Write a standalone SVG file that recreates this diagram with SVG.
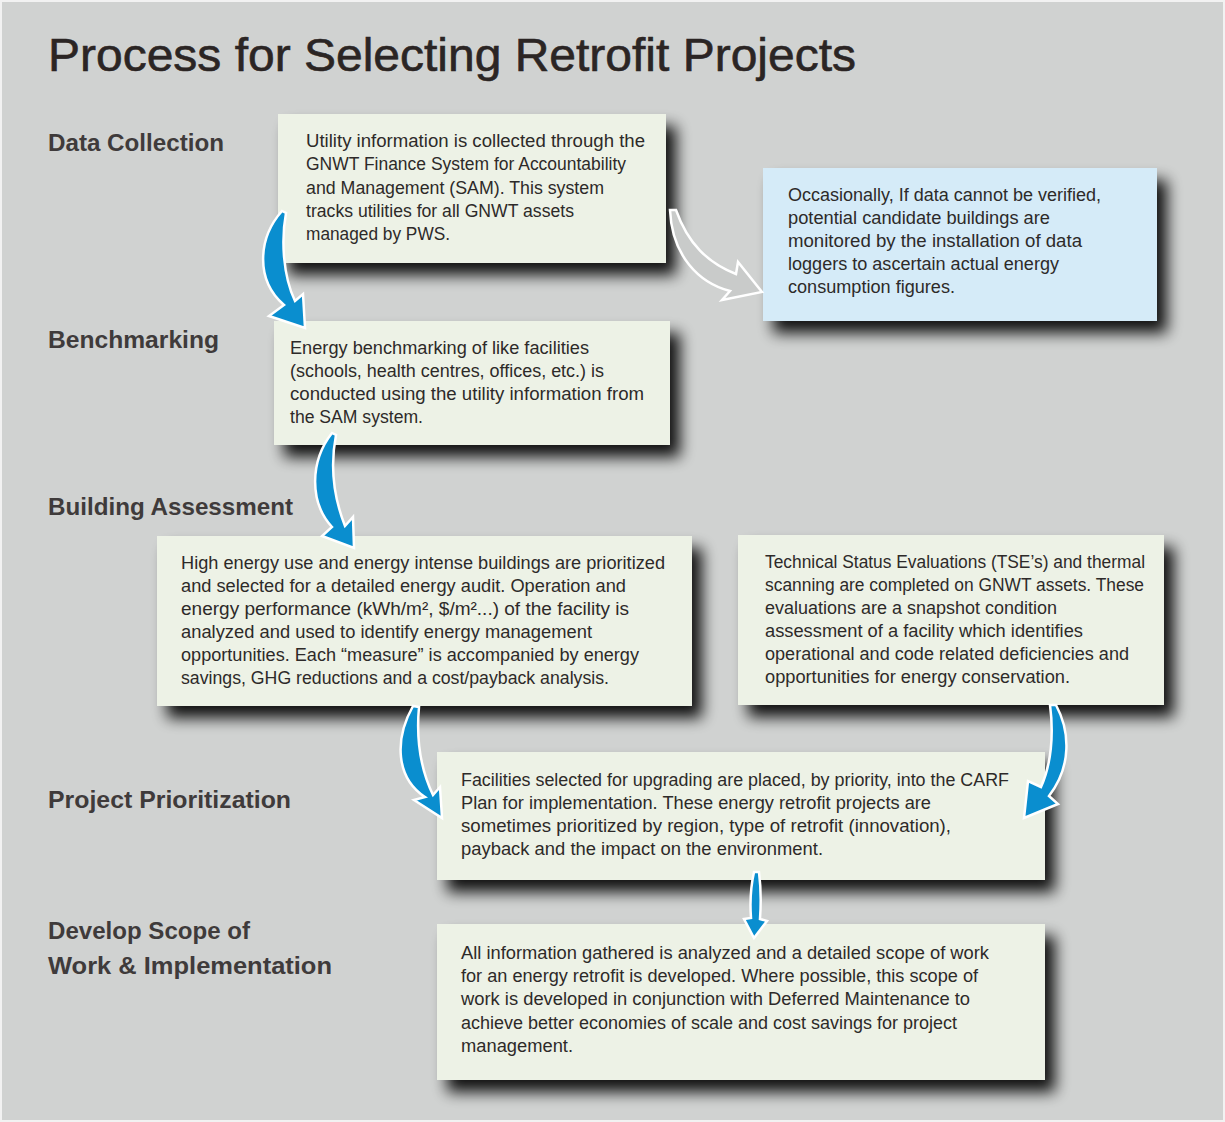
<svg xmlns="http://www.w3.org/2000/svg" width="1225" height="1122" viewBox="0 0 1225 1122">
  <defs>
    <filter id="dropShadow" x="-10%" y="-20%" width="130%" height="160%">
      <feGaussianBlur in="SourceAlpha" stdDeviation="7.5"/>
      <feOffset dx="10" dy="12" result="blur"/>
      <feComponentTransfer>
        <feFuncA type="linear" slope="0.92"/>
      </feComponentTransfer>
      <feMerge>
        <feMergeNode/>
        <feMergeNode in="SourceGraphic"/>
      </feMerge>
    </filter>
    <style>
      .title { font-family: "Liberation Sans", Arial, sans-serif; font-size: 46px; fill: #2b2524; stroke: #2b2524; stroke-width: 0.6; }
      .stage { font-family: "Liberation Sans", Arial, sans-serif; font-size: 24px; font-weight: bold; fill: #3f3b3b; }
      .body { font-family: "Liberation Sans", Arial, sans-serif; font-size: 17.5px; fill: #2d2a29; }
      .box { fill: #edf2e6; filter: url(#dropShadow); }
      .boxBlue { fill: #d5ebf8; filter: url(#dropShadow); }
      .flow { fill: #0a8ecf; stroke: #ffffff; stroke-width: 2.5; stroke-linejoin: miter; }
      .flowAlt { fill: #c9cbca; stroke: #ffffff; stroke-width: 2.5; stroke-linejoin: miter; }
    </style>
  </defs>

  <!-- page background -->
  <rect x="1" y="1" width="1223" height="1120" fill="#d0d2d1" stroke="#f2f2f2" stroke-width="2"/>

  <text class="title" x="48" y="71" textLength="808" lengthAdjust="spacingAndGlyphs">Process for Selecting Retrofit Projects</text>

  <!-- stage labels -->
  <g id="stage-labels">
    <text class="stage" x="48" y="151" textLength="176" lengthAdjust="spacingAndGlyphs">Data Collection</text>
    <text class="stage" x="48" y="348" textLength="171" lengthAdjust="spacingAndGlyphs">Benchmarking</text>
    <text class="stage" x="48" y="515" textLength="245" lengthAdjust="spacingAndGlyphs">Building Assessment</text>
    <text class="stage" x="48" y="808" textLength="243" lengthAdjust="spacingAndGlyphs">Project Prioritization</text>
    <text class="stage" x="48" y="939" textLength="202" lengthAdjust="spacingAndGlyphs">Develop Scope of</text>
    <text class="stage" x="48" y="974" textLength="284" lengthAdjust="spacingAndGlyphs">Work &amp; Implementation</text>
  </g>

  <!-- Data collection -->
  <g id="node-data-collection">
    <rect class="box" x="278" y="114" width="388" height="149"/>
    <text class="body" x="306" y="147" textLength="339" lengthAdjust="spacingAndGlyphs">Utility information is collected through the</text>
    <text class="body" x="306" y="170" textLength="320" lengthAdjust="spacingAndGlyphs">GNWT Finance System for Accountability</text>
    <text class="body" x="306" y="194" textLength="298" lengthAdjust="spacingAndGlyphs">and Management (SAM). This system</text>
    <text class="body" x="306" y="217" textLength="268" lengthAdjust="spacingAndGlyphs">tracks utilities for all GNWT assets</text>
    <text class="body" x="306" y="240" textLength="144" lengthAdjust="spacingAndGlyphs">managed by PWS.</text>
  </g>

  <!-- Data loggers -->
  <g id="node-data-loggers">
    <rect class="boxBlue" x="763" y="168" width="394" height="153"/>
    <text class="body" x="788" y="201" textLength="313" lengthAdjust="spacingAndGlyphs">Occasionally, If data cannot be verified,</text>
    <text class="body" x="788" y="224" textLength="262" lengthAdjust="spacingAndGlyphs">potential candidate buildings are</text>
    <text class="body" x="788" y="247" textLength="294" lengthAdjust="spacingAndGlyphs">monitored by the installation of data</text>
    <text class="body" x="788" y="270" textLength="271" lengthAdjust="spacingAndGlyphs">loggers to ascertain actual energy</text>
    <text class="body" x="788" y="293" textLength="167" lengthAdjust="spacingAndGlyphs">consumption figures.</text>
  </g>

  <!-- Benchmarking -->
  <g id="node-benchmarking">
    <rect class="box" x="274" y="321" width="396" height="124"/>
    <text class="body" x="290" y="354" textLength="299" lengthAdjust="spacingAndGlyphs">Energy benchmarking of like facilities</text>
    <text class="body" x="290" y="377" textLength="314" lengthAdjust="spacingAndGlyphs">(schools, health centres, offices, etc.) is</text>
    <text class="body" x="290" y="400" textLength="354" lengthAdjust="spacingAndGlyphs">conducted using the utility information from</text>
    <text class="body" x="290" y="423" textLength="133" lengthAdjust="spacingAndGlyphs">the SAM system.</text>
  </g>

  <!-- Building assessment -->
  <g id="node-building-assessment">
    <rect class="box" x="157" y="536" width="535" height="170"/>
    <text class="body" x="181" y="569" textLength="484" lengthAdjust="spacingAndGlyphs">High energy use and energy intense buildings are prioritized</text>
    <text class="body" x="181" y="592" textLength="445" lengthAdjust="spacingAndGlyphs">and selected for a detailed energy audit. Operation and</text>
    <text class="body" x="181" y="615" textLength="448" lengthAdjust="spacingAndGlyphs">energy performance (kWh/m², $/m²...) of the facility is</text>
    <text class="body" x="181" y="638" textLength="411" lengthAdjust="spacingAndGlyphs">analyzed and used to identify energy management</text>
    <text class="body" x="181" y="661" textLength="458" lengthAdjust="spacingAndGlyphs">opportunities. Each “measure” is accompanied by energy</text>
    <text class="body" x="181" y="684" textLength="428" lengthAdjust="spacingAndGlyphs">savings, GHG reductions and a cost/payback analysis.</text>
  </g>

  <!-- Technical status evaluations -->
  <g id="node-tse">
    <rect class="box" x="738" y="535" width="426" height="170"/>
    <text class="body" x="765" y="568" textLength="380" lengthAdjust="spacingAndGlyphs">Technical Status Evaluations (TSE’s) and thermal</text>
    <text class="body" x="765" y="591" textLength="379" lengthAdjust="spacingAndGlyphs">scanning are completed on GNWT assets. These</text>
    <text class="body" x="765" y="614" textLength="292" lengthAdjust="spacingAndGlyphs">evaluations are a snapshot condition</text>
    <text class="body" x="765" y="637" textLength="318" lengthAdjust="spacingAndGlyphs">assessment of a facility which identifies</text>
    <text class="body" x="765" y="660" textLength="364" lengthAdjust="spacingAndGlyphs">operational and code related deficiencies and</text>
    <text class="body" x="765" y="683" textLength="305" lengthAdjust="spacingAndGlyphs">opportunities for energy conservation.</text>
  </g>

  <!-- Project prioritization -->
  <g id="node-prioritization">
    <rect class="box" x="437" y="752" width="608" height="128"/>
    <text class="body" x="461" y="786" textLength="548" lengthAdjust="spacingAndGlyphs">Facilities selected for upgrading are placed, by priority, into the CARF</text>
    <text class="body" x="461" y="809" textLength="470" lengthAdjust="spacingAndGlyphs">Plan for implementation. These energy retrofit projects are</text>
    <text class="body" x="461" y="832" textLength="490" lengthAdjust="spacingAndGlyphs">sometimes prioritized by region, type of retrofit (innovation),</text>
    <text class="body" x="461" y="855" textLength="362" lengthAdjust="spacingAndGlyphs">payback and the impact on the environment.</text>
  </g>

  <!-- Scope of work -->
  <g id="node-scope">
    <rect class="box" x="437" y="924" width="608" height="156"/>
    <text class="body" x="461" y="959" textLength="528" lengthAdjust="spacingAndGlyphs">All information gathered is analyzed and a detailed scope of work</text>
    <text class="body" x="461" y="982" textLength="517" lengthAdjust="spacingAndGlyphs">for an energy retrofit is developed. Where possible, this scope of</text>
    <text class="body" x="461" y="1005" textLength="509" lengthAdjust="spacingAndGlyphs">work is developed in conjunction with Deferred Maintenance to</text>
    <text class="body" x="461" y="1029" textLength="496" lengthAdjust="spacingAndGlyphs">achieve better economies of scale and cost savings for project</text>
    <text class="body" x="461" y="1052" textLength="112" lengthAdjust="spacingAndGlyphs">management.</text>
  </g>

  <!-- curved flow arrows -->
  <g id="connectors">
    <path class="flow" d="M282,211 C258,238 255,280 284,305 L269,316 L305,328 L303,294 L295,301 C283,276 281,240 286,213 Z"/>
    <path class="flowAlt" d="M670,210 C672,256 699,283 730,291 L722,300 L762,292 L738,262 L736,274 C708,263 688,244 676,210 Z"/>
    <path class="flow" d="M332,433 C310,461 309,502 332,527 L322,536 L354,548 L353,517 L345,526 C334,498 330,466 336,435 Z"/>
    <path class="flow" d="M413,706 C394,740 396,778 425,797 L414,800 L442,818 L440,787 L433,795 C420,768 416,740 419,707 Z"/>
    <path class="flow" d="M1050,705 C1054,735 1051,765 1041,787 L1028,781 L1024,818 L1058,804 L1049,796 C1072,766 1070,731 1056,705 Z"/>
    <path class="flow" d="M754,872 C750,890 750,905 751,918 L744,919 L754,938 L767,921 L760,919 C761,905 761,888 759,872 Z"/>
  </g>
</svg>
